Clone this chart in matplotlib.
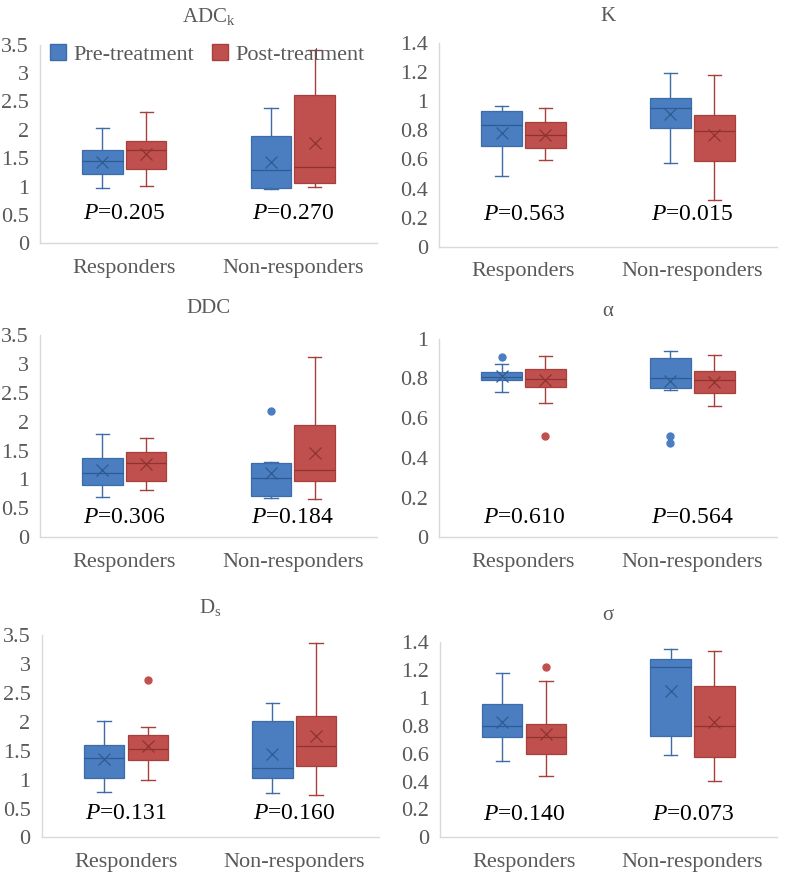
import numpy as np
import matplotlib.pyplot as plt
from matplotlib.patches import Patch
from matplotlib.ticker import FuncFormatter

###############################################################################
plt.rcParams['font.family'] = ['Liberation Serif', 'DejaVu Serif']
plt.rcParams['mathtext.fontset'] = 'custom'
plt.rcParams['mathtext.rm'] = 'Liberation Serif'
plt.rcParams['mathtext.it'] = 'Liberation Serif:italic'

GROUPS = ['Responders', 'Non-responders']
SERIES = ['Pre-treatment', 'Post-treatment']
TITLES = [r'ADC$_\mathrm{k}$', 'K', 'DDC', 'α', r'D$_\mathrm{s}$', 'σ']
P_VALUES = [['0.205', '0.270'], ['0.563', '0.015'], ['0.306', '0.184'],
            ['0.610', '0.564'], ['0.131', '0.160'], ['0.140', '0.073']]
YMAX = [3.5, 1.4, 3.5, 1.0, 3.5, 1.4]
YSTEP = [0.5, 0.2, 0.5, 0.2, 0.5, 0.2]

# box statistics per panel: order = [Resp pre, Resp post, NonResp pre, NonResp post]
# each entry: (whislo, q1, median, q3, whishi, mean)
ADCK = [(0.98, 1.22, 1.45, 1.65, 2.03, 1.43),
        (1.01, 1.31, 1.65, 1.81, 2.31, 1.58),
        (0.95, 0.98, 1.29, 1.89, 2.38, 1.44),
        (0.99, 1.06, 1.35, 2.62, 3.41, 1.76)]
K = [(0.486, 0.69, 0.833, 0.935, 0.965, 0.78),
     (0.595, 0.677, 0.767, 0.858, 0.95, 0.77),
     (0.577, 0.814, 0.953, 1.023, 1.19, 0.914),
     (0.319, 0.586, 0.795, 0.902, 1.177, 0.767)]
DDC = [(0.69, 0.91, 1.11, 1.37, 1.78, 1.16),
       (0.81, 0.97, 1.28, 1.47, 1.72, 1.26),
       (0.68, 0.71, 1.03, 1.28, 1.30, 1.11),
       (0.66, 0.98, 1.17, 1.94, 3.12, 1.46)]
ALPHA = [(0.729, 0.79, 0.805, 0.832, 0.87, 0.81),
         (0.678, 0.756, 0.797, 0.847, 0.912, 0.79),
         (0.742, 0.749, 0.80, 0.90, 0.94, 0.788),
         (0.661, 0.725, 0.79, 0.837, 0.92, 0.78)]
DS = [(0.78, 1.02, 1.37, 1.60, 2.01, 1.35),
      (0.99, 1.34, 1.53, 1.77, 1.91, 1.58),
      (0.77, 1.03, 1.20, 2.02, 2.33, 1.45),
      (0.74, 1.23, 1.58, 2.10, 3.37, 1.76)]
SIGMA = [(0.546, 0.72, 0.80, 0.96, 1.18, 0.83),
         (0.44, 0.60, 0.72, 0.815, 1.12, 0.74),
         (0.594, 0.73, 1.22, 1.28, 1.35, 1.05),
         (0.404, 0.577, 0.80, 1.088, 1.335, 0.827)]
STATS = [ADCK, K, DDC, ALPHA, DS, SIGMA]

# outliers per panel, same order as boxes
OUTLIERS = [[[], [], [], []],
            [[], [], [], []],
            [[], [], [2.19], []],
            [[0.908], [0.508], [0.51, 0.475], []],
            [[], [2.73], [], []],
            [[], [1.22], [], []]]
###############################################################################
FILL = ['#4A7EC1', '#C0504D']
EDGE = ['#3D6CA8', '#A5403D']
DARK = ['#2F5A92', '#8E3330']
GRAY = '#595959'

# axes layout in figure fractions
POS = [[0.051, 0.722, 0.428, 0.227], [0.558, 0.718, 0.429, 0.233],
       [0.051, 0.386, 0.428, 0.231], [0.558, 0.386, 0.429, 0.227],
       [0.053, 0.043, 0.428, 0.231], [0.559, 0.043, 0.428, 0.223]]
P_Y = [0.15, 0.157, 0.10, 0.098, 0.116, 0.119]

fig = plt.figure(figsize=(7.87, 8.75), dpi=100)

for k in range(6):
    ax = fig.add_axes(POS[k])
    for i in range(4):
        g, s = i // 2, i % 2
        lo, q1, med, q3, hi, mean = STATS[k][i]
        st = [dict(whislo=lo, q1=q1, med=med, q3=q3, whishi=hi,
                   mean=mean, fliers=OUTLIERS[k][i])]
        pos = g + 1 + (-0.13 if s == 0 else 0.13)
        ax.bxp(st, positions=[pos], widths=0.24, showmeans=True,
               patch_artist=True, capwidths=0.08,
               boxprops=dict(facecolor=FILL[s], edgecolor=EDGE[s], linewidth=0.9),
               whiskerprops=dict(color=EDGE[s], linewidth=1.0),
               capprops=dict(color=EDGE[s], linewidth=1.0),
               medianprops=dict(color=DARK[s], linewidth=0.9),
               meanprops=dict(marker='x', markeredgecolor=DARK[s],
                              markersize=8, markeredgewidth=0.9),
               flierprops=dict(marker='o', markerfacecolor=FILL[s],
                               markeredgecolor=FILL[s], markersize=5))
    ax.set_xlim(0.5, 2.5)
    ax.set_ylim(0, YMAX[k])
    ax.set_yticks(np.arange(0, YMAX[k] + 1e-9, YSTEP[k]))
    ax.yaxis.set_major_formatter(FuncFormatter(lambda v, p: '%g' % round(v, 2)))
    ax.set_xticks([1, 2])
    ax.set_xticklabels(GROUPS)
    ax.tick_params(axis='both', length=0, labelsize=16, colors=GRAY)
    ax.tick_params(axis='y', pad=8)
    ax.tick_params(axis='x', pad=11)
    for side in ['top', 'right']:
        ax.spines[side].set_visible(False)
    for side in ['left', 'bottom']:
        ax.spines[side].set_color('#D9D9D9')
        ax.spines[side].set_linewidth(1.0)
    ax.set_title(TITLES[k], fontsize=15, color=GRAY, pad=16)
    for g in range(2):
        ax.text(g + 1, P_Y[k] * YMAX[k], r'$P$=' + P_VALUES[k][g],
                fontsize=17, color='black', ha='center', va='center')
    if k == 0:
        handles = [Patch(facecolor=FILL[j], edgecolor=EDGE[j]) for j in range(2)]
        ax.legend(handles, SERIES, loc='upper left', ncol=2, frameon=False,
                  fontsize=16, handlelength=0.7, handleheight=0.7,
                  handletextpad=0.35, columnspacing=0.8, labelcolor=GRAY,
                  bbox_to_anchor=(-0.01, 1.07), borderaxespad=0.2)

plt.savefig('out.png', dpi=100)
